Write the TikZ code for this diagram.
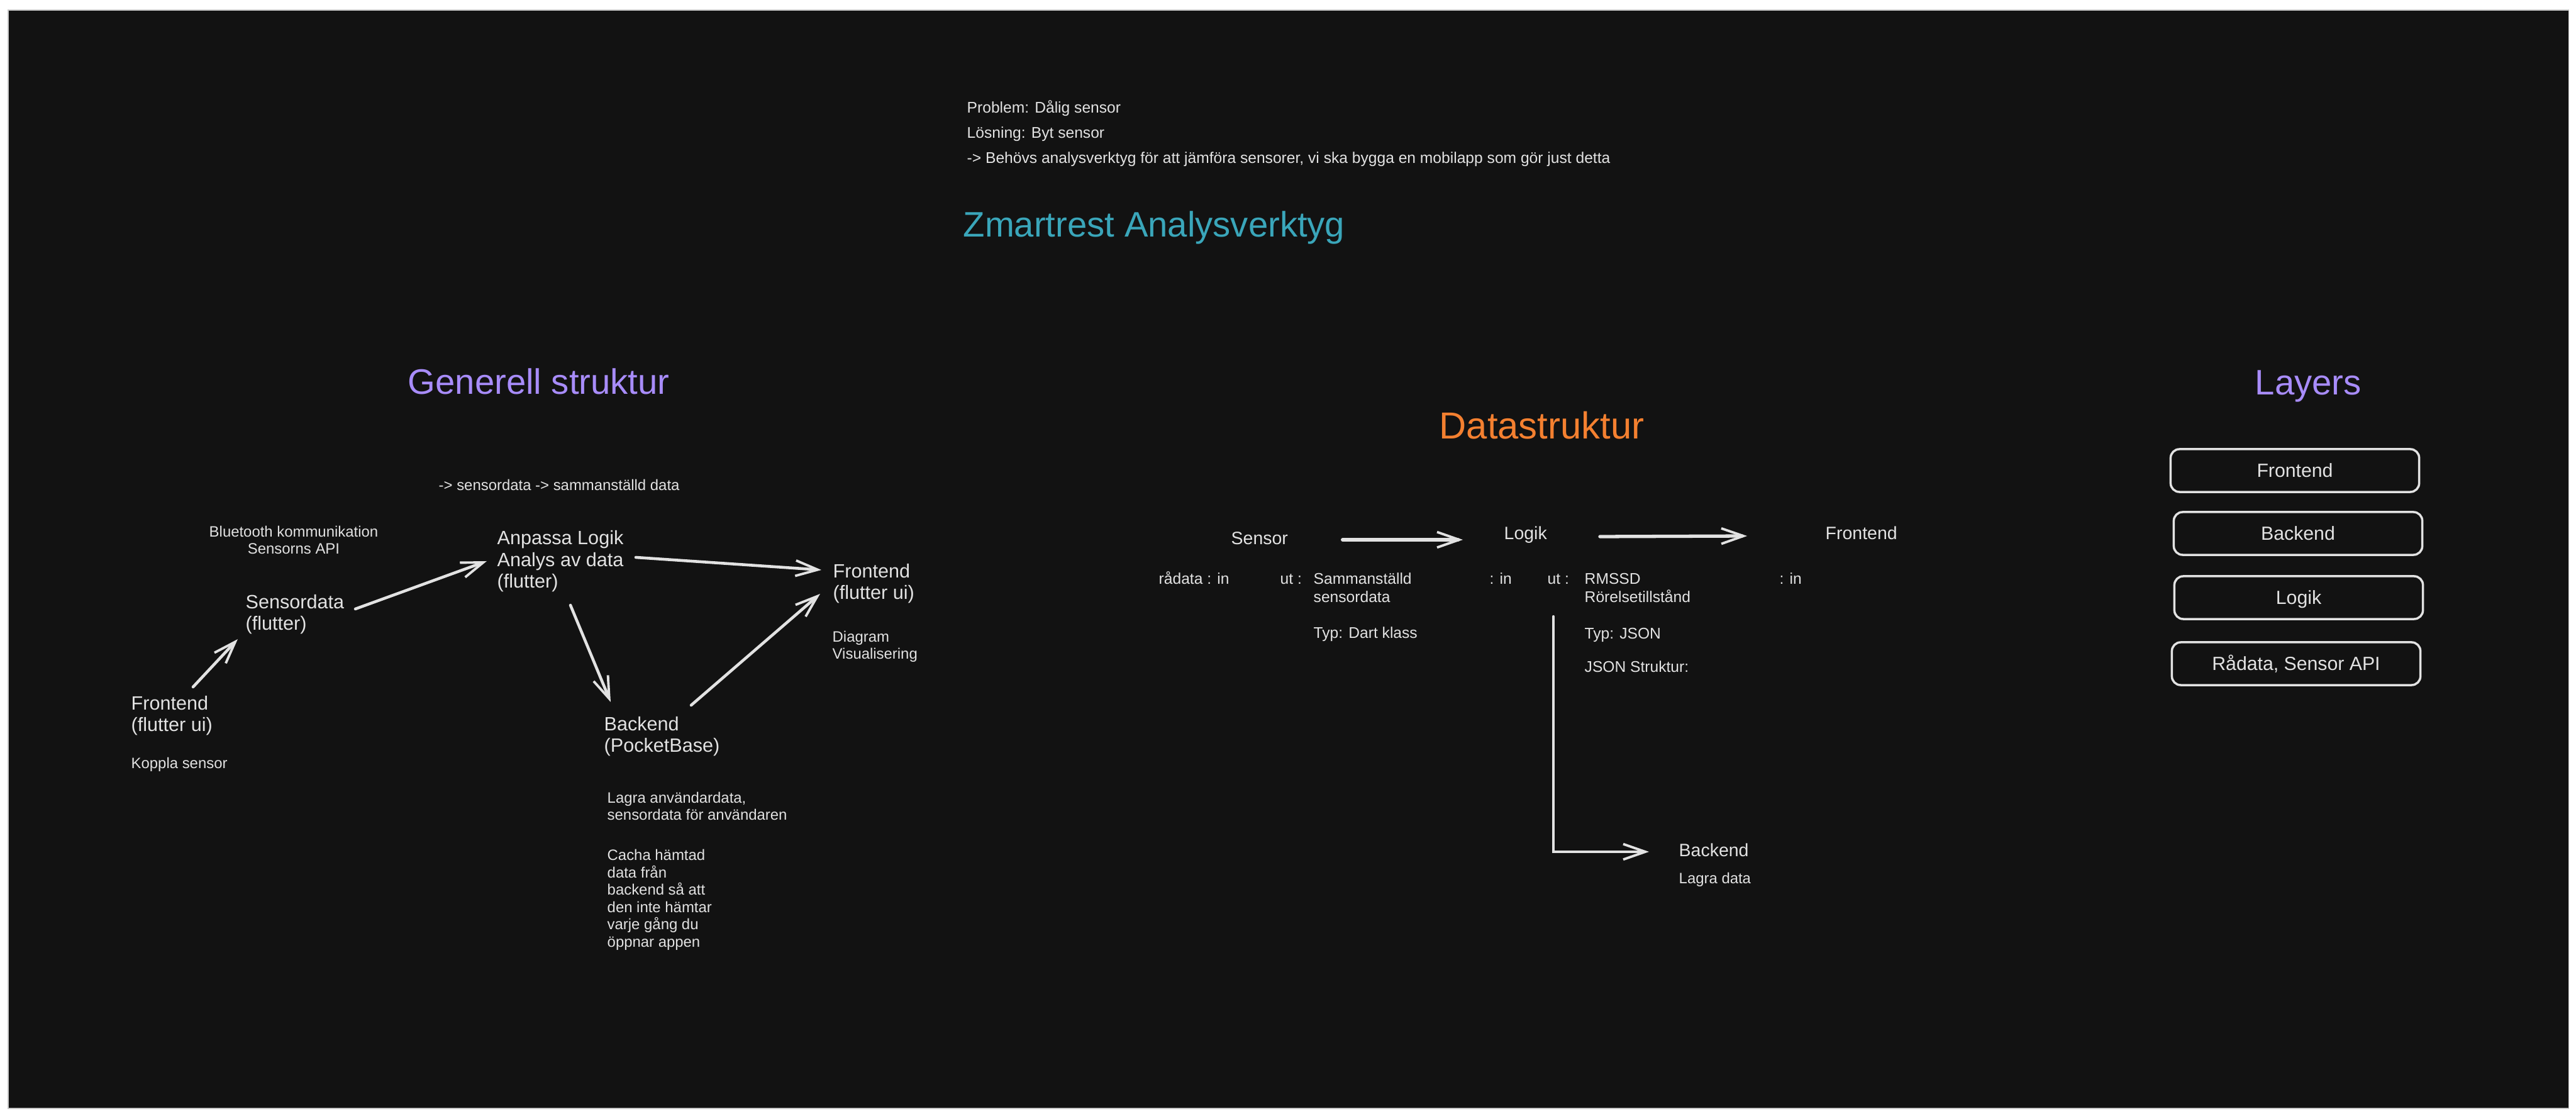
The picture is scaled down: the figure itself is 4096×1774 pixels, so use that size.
\documentclass[tikz,border=0pt]{standalone}
\usepackage{fontspec}
\setmainfont{Liberation Sans}
\usetikzlibrary{arrows.meta,calc}

\definecolor{panelbg}{RGB}{18,18,18}
\definecolor{panelrim}{RGB}{200,200,200}
\definecolor{inkwhite}{RGB}{226,226,226}
\definecolor{inkteal}{RGB}{58,166,186}
\definecolor{inkpurple}{RGB}{168,140,250}
\definecolor{inkorange}{RGB}{244,128,48}

% multi-line nodes: base west sits on the LAST line
\tikzset{
	txt/.style={inner sep=0pt, anchor=base west, align=left, text=inkwhite},
	notetxt/.style={txt, font=\fontsize{7pt}{11.4pt}\selectfont},
	tinytxt/.style={txt, font=\fontsize{6.8pt}{7.8pt}\selectfont},
	nodetxt/.style={txt, font=\fontsize{8.7pt}{9.9pt}\selectfont},
	dstxt/.style={txt, font=\fontsize{7pt}{8.25pt}\selectfont},
	dsnode/.style={txt, font=\fontsize{8.1pt}{9.5pt}\selectfont},
	titletxt/.style={txt, font=\fontsize{16pt}{19pt}\selectfont},
	layerbox/.style={draw=inkwhite, line width=1pt, rounded corners=4pt, inner sep=0pt,
		minimum width=3.95cm, minimum height=0.68cm, text=inkwhite,
		font=\fontsize{8.6pt}{10pt}\selectfont, text height=6.2pt, text depth=0pt},
	arr/.style={draw=inkwhite, line width=1.3pt, line cap=round,
		-{Straight Barb[length=10pt,width=7pt,line width=1.1pt]}},
}

\begin{document}
\begin{tikzpicture}[x=0.01cm, y=-0.01cm]
		%%%%% START %%%%%
		
		\useasboundingbox (0,0) rectangle (4096,1774);
		\fill[white] (0,0) rectangle (4096,1774);
		\draw[fill=panelbg, draw=panelrim, line width=0.3pt] (13,16) rectangle (4084,1762);
		
		% problem + app title
		\node[notetxt] (probNote) at (1537,260) {Problem: Dålig sensor\\Lösning: Byt sensor\\-> Behövs analysverktyg för att jämföra sensorer, vi ska bygga en mobilapp som gör just detta};
		\node[titletxt, text=inkteal] (appTitle) at (1531,377) {Zmartrest Analysverktyg};
		
		% generell struktur
		\node[titletxt, text=inkpurple] (gsTitle) at (648,627) {Generell struktur};
		\node[tinytxt] (gsFlow) at (697,780) {-> sensordata -> sammanställd data};
		\node[tinytxt, anchor=base, align=center] (gsBlue) at (467,881) {Bluetooth kommunikation\\Sensorns API};
		\node[nodetxt] (gsLogik) at (790,935) {Anpassa Logik\\Analys av data\\(flutter)};
		\node[nodetxt] (gsSensor) at (390,1002) {Sensordata\\(flutter)};
		\node[nodetxt] (gsFront) at (208,1163) {Frontend\\(flutter ui)};
		\node[tinytxt] (gsKoppla) at (208,1222) {Koppla sensor};
		\node[nodetxt] (gsFrontUi) at (1324,953) {Frontend\\(flutter ui)};
		\node[tinytxt] (gsDiagram) at (1323,1048) {Diagram\\Visualisering};
		\node[nodetxt] (gsBackend) at (960,1196) {Backend\\(PocketBase)};
		\node[tinytxt] (gsLagra) at (965,1304) {Lagra användardata,\\sensordata för användaren};
		\node[tinytxt] (gsCache) at (965,1505) {Cacha hämtad\\data från\\backend så att\\den inte hämtar\\varje gång du\\öppnar appen};
		
		\draw[arr] ($(gsFront.base west)+(99,-71)$) -- ($(gsSensor.base west)+(-12,14)$);
		\draw[arr] ($(gsSensor.base west)+(175,-34)$) -- ($(gsLogik.base west)+(-16,-43)$);
		\draw[arr] ($(gsLogik.base west)+(221,-49)$) -- ($(gsFrontUi.base west)+(-18,-47)$);
		\draw[arr] ($(gsLogik.base west)+(117,27)$) -- ($(gsBackend.base west)+(11,-80)$);
		\draw[arr] ($(gsBackend.base west)+(139,-75)$) -- ($(gsFrontUi.base west)+(-20,-9)$);
		
		% datastruktur
		\node[titletxt, text=inkorange, font=\fontsize{17pt}{20pt}\selectfont] (dsTitle) at (2288,698) {Datastruktur};
		\node[dsnode] (dsSensor) at (1957,866) {Sensor};
		\node[dsnode] (dsLogik) at (2391,858) {Logik};
		\node[dsnode] (dsFront) at (2902,858) {Frontend};
		\node[dstxt] (dsRaw) at (1842,929) {rådata : in};
		\node[dstxt] (dsSensUt) at (2035,929) {ut :};
		\node[dstxt] (dsSensOut) at (2088,958) {Sammanställd\\sensordata};
		\node[dstxt] (dsSensTyp) at (2088,1015) {Typ: Dart klass};
		\node[dstxt] (dsLogIn) at (2368,929) {: in};
		\node[dstxt] (dsLogUt) at (2460,929) {ut :};
		\node[dstxt] (dsLogOut) at (2519,958) {RMSSD\\Rörelsetillstånd};
		\node[dstxt] (dsLogTyp) at (2519,1016) {Typ: JSON};
		\node[dstxt] (dsJson) at (2519,1069) {JSON Struktur:};
		\node[dstxt] (dsFrontIn) at (2829,929) {: in};
		\node[dsnode] (dsBackend) at (2669,1362) {Backend};
		\node[tinytxt] (dsLagra) at (2669,1405) {Lagra data};
		
		\draw[arr, line width=1.7pt] ($(dsSensor.base west)+(178,-8)$) -- ($(dsLogik.base west)+(-65,0)$);
		\draw[arr, line width=1.5pt] ($(dsLogik.base west)+(153,-5)$) -- ($(dsFront.base west)+(-124,-6)$);
		\draw[arr, line width=1.2pt] ($(dsLogik.base west)+(79,122)$) |- ($(dsBackend.base west)+(-47,-8)$);
		
		% layers
		\node[titletxt, text=inkpurple] (lyTitle) at (3585,628) {Layers};
		\node[layerbox] (lyFront) at (3649,748) {Frontend};
		\node[layerbox] (lyBack) at (3654,848) {Backend};
		\node[layerbox] (lyLogik) at (3655,950) {Logik};
		\node[layerbox] (lyRaw) at (3651,1055) {Rådata, Sensor API};
		
		%%%%% END %%%%%
\end{tikzpicture}
\end{document}
